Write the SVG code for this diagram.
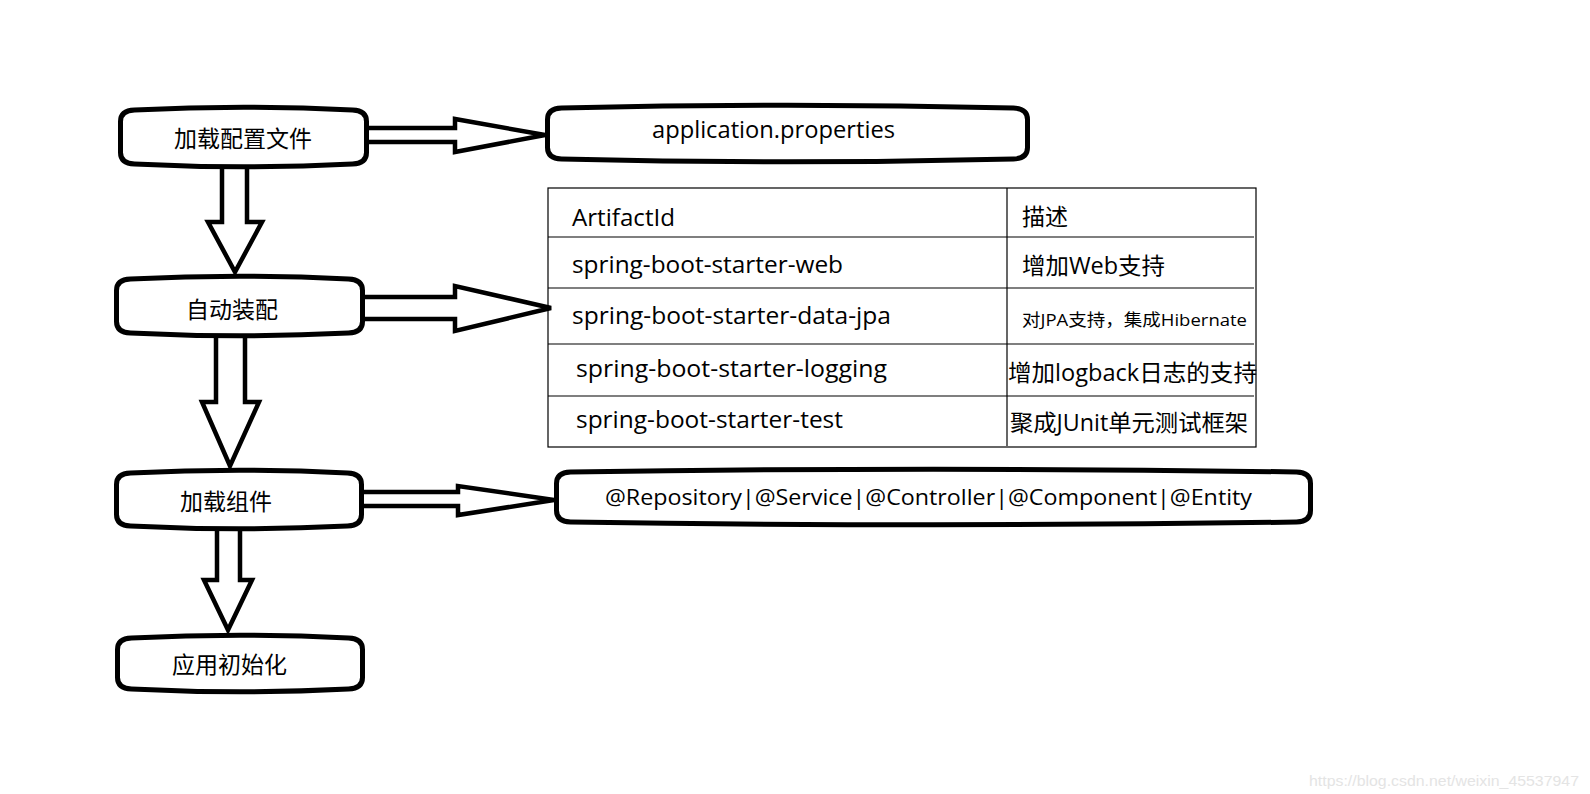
<svg xmlns="http://www.w3.org/2000/svg" width="1590" height="794" viewBox="0 0 1590 794">
<style>
  .box { fill: #ffffff; stroke: #000000; stroke-width: 5; stroke-linejoin: round; }
  .arrow { fill: #ffffff; stroke: #000000; stroke-width: 4.5; stroke-linejoin: miter; }
  .cjk { font-family: "Noto Sans CJK SC", "Microsoft YaHei", sans-serif; font-size: 23px; fill: #000000; }
  .lat { font-family: "Open Sans", "Noto Sans CJK SC", sans-serif; font-size: 23px; fill: #000000; }
  .grid { fill: none; stroke: #000000; stroke-width: 1.2; }
  .mark { font-family: "Liberation Sans", Arial, sans-serif; font-size: 15px; fill: #e4e4e4; }
</style>
<rect x="0" y="0" width="1590" height="794" fill="#ffffff"/>

<g id="connectors">
  <path class="arrow" d="M367,128 H455 V119 L545,135 L455,152 V142 H367"/>
  <path class="arrow" d="M364,297 H455 V286 L551,308 L455,331 V319 H364"/>
  <path class="arrow" d="M363,492 H458 V486 L554,500 L458,515 V506 H363"/>
  <path class="arrow" d="M222,168 V222 H208 L235,272 L262,222 H247 V168"/>
  <path class="arrow" d="M216,337 V402 H202 L230,466 L259,402 H245 V337"/>
  <path class="arrow" d="M217,530 V580 H204 L228,630 L252,580 H240 V530"/>
</g>

<g id="node-load-config">
  <path class="box" d="M120.5,121.5 Q120.5,110.5 134.5,110 Q243.5,104.5 352.5,110 Q366.5,110.5 366.5,121.5 L366.5,152.5 Q366.5,163.5 352.5,164 Q243.5,169.5 134.5,164 Q120.5,163.5 120.5,152.5 Z"/>
  <text class="cjk" x="243" y="147" text-anchor="middle">加载配置文件</text>
</g>

<g id="node-auto-config">
  <path class="box" d="M116.5,290.5 Q116.5,279.5 130.5,279 Q239.5,273.5 348.5,279 Q362.5,279.5 362.5,290.5 L362.5,321.5 Q362.5,332.5 348.5,333 Q239.5,338.5 130.5,333 Q116.5,332.5 116.5,321.5 Z"/>
  <text class="cjk" x="232" y="318" text-anchor="middle">自动装配</text>
</g>

<g id="node-load-components">
  <path class="box" d="M116.5,484.5 Q116.5,473.5 130.5,473 Q239,467.5 347.5,473 Q361.5,473.5 361.5,484.5 L361.5,514.5 Q361.5,525.5 347.5,526 Q239,531.5 130.5,526 Q116.5,525.5 116.5,514.5 Z"/>
  <text class="cjk" x="226" y="510" text-anchor="middle">加载组件</text>
</g>

<g id="node-app-init">
  <path class="box" d="M117.5,649.5 Q117.5,638.5 131.5,638 Q240,632.5 348.5,638 Q362.5,638.5 362.5,649.5 L362.5,677.5 Q362.5,688.5 348.5,689 Q240,694.5 131.5,689 Q117.5,688.5 117.5,677.5 Z"/>
  <text class="cjk" x="229.5" y="673" text-anchor="middle">应用初始化</text>
</g>

<g id="node-app-properties">
  <path class="box" d="M547.5,119.5 Q547.5,108.5 561.5,108 Q787.5,102.5 1013.5,108 Q1027.5,108.5 1027.5,119.5 L1027.5,147.5 Q1027.5,158.5 1013.5,159 Q787.5,164.5 561.5,159 Q547.5,158.5 547.5,147.5 Z"/>
  <text class="lat" x="652" y="138" textLength="243" lengthAdjust="spacingAndGlyphs">application.properties</text>
</g>

<g id="node-starters-table">
  <rect class="grid" x="548" y="188" width="708" height="259"/>
  <line class="grid" x1="1007" y1="188" x2="1007" y2="446"/>
  <line class="grid" x1="548" y1="237" x2="1254" y2="237"/>
  <line class="grid" x1="548" y1="288" x2="1254" y2="288"/>
  <line class="grid" x1="548" y1="344" x2="1254" y2="344"/>
  <line class="grid" x1="548" y1="396" x2="1254" y2="396"/>
  <text class="lat" x="572" y="226" textLength="103" lengthAdjust="spacingAndGlyphs">ArtifactId</text>
  <text class="lat" x="572" y="273" textLength="271" lengthAdjust="spacingAndGlyphs">spring-boot-starter-web</text>
  <text class="lat" x="572" y="324" textLength="319" lengthAdjust="spacingAndGlyphs">spring-boot-starter-data-jpa</text>
  <text class="lat" x="576" y="377" textLength="311" lengthAdjust="spacingAndGlyphs">spring-boot-starter-logging</text>
  <text class="lat" x="576" y="428" textLength="267" lengthAdjust="spacingAndGlyphs">spring-boot-starter-test</text>
  <text class="lat" x="1022" y="225" textLength="46" lengthAdjust="spacingAndGlyphs">描述</text>
  <text class="lat" x="1022" y="274" textLength="143" lengthAdjust="spacingAndGlyphs">增加Web支持</text>
  <text class="lat" x="1022" y="326" style="font-size:17px" textLength="225" lengthAdjust="spacingAndGlyphs">对JPA支持，集成Hibernate</text>
  <text class="lat" x="1008" y="381" textLength="249" lengthAdjust="spacingAndGlyphs">增加logback日志的支持</text>
  <text class="lat" x="1010" y="431" textLength="238" lengthAdjust="spacingAndGlyphs">聚成JUnit单元测试框架</text>
</g>

<g id="node-annotations">
  <path class="box" d="M556.5,483.5 Q556.5,472.5 570.5,472 Q933.5,466.5 1296.5,472 Q1310.5,472.5 1310.5,483.5 L1310.5,510.5 Q1310.5,521.5 1296.5,522 Q933.5,527.5 570.5,522 Q556.5,521.5 556.5,510.5 Z"/>
  <text class="lat" x="605" y="505" style="font-size:22px" textLength="647" lengthAdjust="spacingAndGlyphs">@Repository|@Service|@Controller|@Component|@Entity</text>
</g>

<text class="mark" x="1309" y="786" textLength="270" lengthAdjust="spacingAndGlyphs">https://blog.csdn.net/weixin_45537947</text>
</svg>
